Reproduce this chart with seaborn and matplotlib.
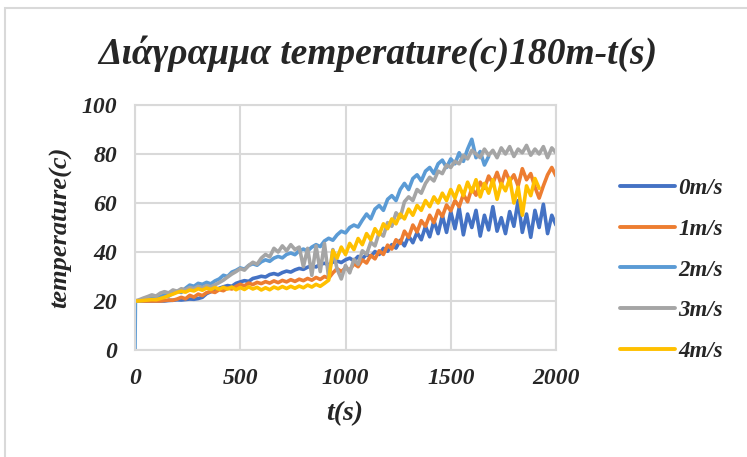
import matplotlib
matplotlib.use("Agg")
import matplotlib.pyplot as plt
import seaborn as sns
import pandas as pd
from matplotlib.patches import Rectangle

# ---------------- data ----------------
series_names = ["0m/s", "1m/s", "2m/s", "3m/s", "4m/s"]
colors = ["#4472C4", "#ED7D31", "#5B9BD5", "#A5A5A5", "#FFC000"]

t_full = list(range(0, 2001, 20))

temp_0 = [20, 20, 20, 20, 20, 20, 20, 20, 20.2, 20.3,
          20.5, 20.4, 20.6, 20.8, 20.7, 21.0, 21.5, 23.0, 23.8, 24.5,
          25.2, 25.8, 26.3, 26.0, 27.2, 27.8, 28.3, 28.0, 29.2, 29.6,
          30.1, 29.8, 30.8, 31.2, 30.7, 31.6, 32.2, 31.8, 32.7, 33.3,
          32.9, 33.8, 34.4, 33.9, 35.0, 35.4, 34.8, 35.9, 36.3, 35.7,
          36.8, 37.5, 36.4, 38.2, 37.3, 39.0, 38.1, 40.2, 39.0, 41.5,
          40.3, 43.0, 41.6, 44.8, 42.5, 46.5, 43.8, 48.0, 45.0, 50.5,
          46.2, 52.8, 47.5, 55.0, 48.0, 56.5, 49.5, 58.0, 47.0, 55.5,
          50.0, 57.0, 46.5, 55.0, 49.0, 58.5, 48.5, 54.0, 47.5, 56.5,
          50.5, 61.0, 48.0, 55.5, 46.0, 57.0, 50.0, 59.5, 47.5, 55.0,
          51.0]

temp_1 = [20, 20, 20, 20, 20, 20, 20, 20.2, 20.4, 20.3,
          20.8, 21.5, 20.9, 22.3, 21.6, 22.8, 22.2, 23.4, 23.9, 23.5,
          24.6, 24.2, 25.3, 24.9, 26.0, 26.8, 26.2, 27.3, 26.7, 27.6,
          27.1, 27.9, 27.3, 28.2, 27.5, 28.4, 27.8, 28.7, 28.0, 28.9,
          28.3, 29.2, 28.5, 29.6, 28.8, 30.0, 29.3, 31.5, 33.2, 32.0,
          33.5, 32.6, 35.2, 34.0, 36.8, 35.5, 38.6, 37.2, 40.5, 39.0,
          42.8, 41.2, 45.0, 43.5, 48.5, 46.0, 51.0, 48.2, 52.8, 50.5,
          55.0, 52.0, 57.0, 54.5, 59.2, 56.8, 61.0, 58.5, 63.5, 60.5,
          66.0, 63.2, 68.5, 66.0, 71.0, 68.0, 72.5, 67.5, 73.0, 69.0,
          71.5, 67.0, 74.0, 69.5, 72.0, 66.5, 62.0, 67.0, 71.5, 74.5,
          71.0]

t_2 = [0, 2] + list(range(20, 1681, 20))
temp_2 = [0, 20,
          20, 20.3, 20.8, 21.2, 21.0, 21.8, 22.5, 22.0, 23.2,
          24.0, 23.5, 25.2, 26.5, 26.0, 27.2, 26.8, 27.6, 27.0, 28.2,
          29.0, 30.5, 30.0, 31.8, 32.5, 33.5, 33.0, 34.5, 35.2, 34.6,
          36.0, 36.8, 36.2, 37.5, 38.2, 37.6, 39.0, 39.6, 38.9, 40.5,
          41.2, 40.4, 42.0, 43.0, 42.2, 44.5, 45.6, 44.8, 47.0, 48.5,
          47.8, 50.0, 51.0, 50.2, 53.0, 55.5, 53.5, 57.5, 59.0, 57.0,
          61.5, 63.0, 61.0, 65.5, 68.0, 65.5, 70.0, 71.5, 69.0, 73.0,
          74.5, 72.0, 76.0, 77.5, 74.5, 78.0, 76.0, 80.5, 77.0, 82.0,
          86.0, 78.5, 81.0, 75.5, 79.0]

temp_3 = [20, 20.5, 21.2, 21.8, 22.5, 22.0, 23.2, 23.8, 23.3, 24.5,
          24.0, 25.0, 24.6, 25.5, 25.0, 26.0, 25.4, 26.3, 25.8, 26.6,
          27.5, 28.5, 29.8, 31.0, 32.0, 33.2, 32.6, 34.5, 35.8, 35.0,
          37.5, 39.0, 38.0, 41.5, 40.0, 42.5, 40.5, 43.0, 41.0, 42.0,
          34.0, 41.5, 30.5, 42.5, 32.0, 43.5, 29.5, 41.0, 33.0, 29.0,
          34.5, 31.5, 37.0, 35.0, 40.5, 39.0, 44.0, 42.5, 48.0, 46.5,
          52.0, 50.5, 56.0, 54.0, 60.5, 62.5, 61.0, 65.5, 64.0, 68.0,
          70.5, 69.0, 73.0, 72.0, 75.5, 74.5, 77.0, 76.0, 79.5, 78.0,
          81.5, 80.0, 78.5, 82.0, 79.5, 81.5, 78.5, 82.5, 80.0, 83.0,
          79.0, 82.0, 80.5, 83.5, 79.5, 82.0, 80.0, 83.0, 78.5, 82.5,
          80.5]

t_4 = list(range(0, 1921, 20))
temp_4 = [20, 20, 20.2, 20.4, 20.6, 20.5, 21.0, 21.5, 22.2, 22.8,
          23.5, 24.0, 23.6, 24.5, 24.1, 25.0, 24.4, 25.3, 24.7, 25.5,
          24.8, 25.6, 24.9, 25.7, 24.6, 25.5, 24.7, 25.8, 24.9, 25.6,
          24.5, 25.4, 24.6, 25.7, 25.0, 25.9, 25.1, 26.0, 25.2, 26.1,
          25.4, 26.5, 25.7, 26.8, 26.0, 27.2, 28.5, 40.5, 37.5, 42.0,
          39.0, 43.5, 41.0, 45.5, 43.0, 47.5, 45.0, 49.5, 47.0, 51.5,
          49.5, 53.5, 51.5, 55.5, 53.5, 57.5, 55.0, 59.0, 57.0, 61.0,
          58.5, 62.5, 60.0, 64.0, 61.0, 65.5, 62.0, 67.0, 63.0, 68.5,
          64.5, 69.5, 62.5, 68.0, 64.0, 69.5, 61.5, 68.0, 65.0, 70.0,
          60.0, 66.5, 55.0, 67.0, 63.0, 70.0, 66.0]

x_ticks = [0, 500, 1000, 1500, 2000]
y_ticks = [0, 20, 40, 60, 80, 100]

title_text = "Διάγραμμα temperature(c)180m-t(s)"
x_label = "t(s)"
y_label = "temperature(c)"

# ---------------- build long table ----------------
frames = []
for name, tt, vv in zip(series_names,
                        [t_full, t_full, t_2, t_full, t_4],
                        [temp_0, temp_1, temp_2, temp_3, temp_4]):
    frames.append(pd.DataFrame({"t": tt, "temp": vv, "series": name}))
df = pd.concat(frames, ignore_index=True)

# ---------------- plot ----------------
sns.set_style("white")
plt.rcParams["font.family"] = ["Liberation Serif", "DejaVu Serif"]

W, H = 747, 457
fig = plt.figure(figsize=(W / 100, H / 100), dpi=100)
ax = fig.add_axes([135 / W, 1 - 350 / H, (556 - 135) / W, (350 - 105) / H])

sns.lineplot(data=df, x="t", y="temp", hue="series", hue_order=series_names,
             palette=dict(zip(series_names, colors)), estimator=None,
             sort=False, linewidth=2.6, ax=ax, legend=True)

grid_c = "#D9D9D9"
ax.set_xlim(0, 2000)
ax.set_ylim(0, 100)
ax.set_xticks(x_ticks)
ax.set_yticks(y_ticks)
ax.grid(True, color=grid_c, linewidth=1.5)
ax.set_axisbelow(True)
for s in ax.spines.values():
    s.set_color(grid_c)
    s.set_linewidth(1.5)
ax.tick_params(length=0, labelsize=17)
ax.tick_params(axis="x", pad=13)
ax.tick_params(axis="y", pad=13)
for lab in ax.get_xticklabels() + ax.get_yticklabels():
    lab.set_fontweight("bold")
    lab.set_fontstyle("italic")

ax.set_xlabel(x_label, fontsize=20, fontweight="bold", fontstyle="italic")
ax.set_ylabel(y_label, fontsize=19, fontweight="bold", fontstyle="italic")
ax.xaxis.set_label_coords((345 - 135) / 421, (350 - 401) / 245)
ax.yaxis.set_label_coords((72 - 135) / 421, 0.5)

fig.text(378 / W, 1 - 54 / H, title_text, ha="center", va="center",
         fontsize=27, fontweight="bold", fontstyle="italic")

handles, labels = ax.get_legend_handles_labels()
ax.legend_.remove()
leg = fig.legend(handles, labels, loc="center left",
                 bbox_to_anchor=(620 / W, 1 - 270 / H), frameon=False,
                 prop={"family": "Liberation Serif", "weight": "bold",
                       "style": "italic", "size": 16.5},
                 handlelength=2.4, handletextpad=0.15, labelspacing=0.85,
                 borderpad=0, borderaxespad=0)
for lh in leg.get_lines():
    lh.set_linewidth(2.8)

# outer chart border (continues past the right and bottom edges)
fig.patches.append(Rectangle((5 / W, -0.2), 1.2, 1 - 8 / H + 0.2,
                             transform=fig.transFigure, fill=False,
                             edgecolor=grid_c, linewidth=1.5))

fig.savefig("out.png", dpi=100, facecolor="white")
